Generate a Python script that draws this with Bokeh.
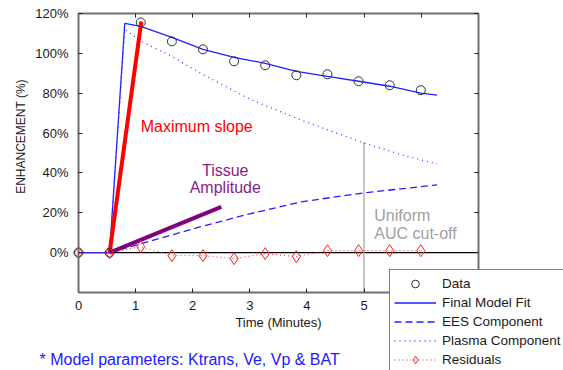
import math
from bokeh.plotting import figure
from bokeh.models import (Range1d, LinearAxis, FixedTicker, Legend, LegendItem, Label)
from bokeh.embed import file_html
from bokeh.resources import INLINE

FONT = "Liberation Sans"

# ---- data ----
data_time = [0, 0.545, 1.09, 1.635, 2.18, 2.725, 3.27, 3.815, 4.36, 4.905, 5.45, 5.995]
data_enh = [0, 0, 115.5, 106, 102, 96, 94, 89, 89.5, 86, 84, 81.5]
resid_enh = [0, 0, 3, -1.5, -1.5, -3, -0.5, -2, 1, 1, 1, 1]

fit_time = [0, 0.545, 0.81, 1.09, 1.635, 2.18, 2.725, 3.27, 3.815, 4.36, 4.905, 5.45, 5.995, 6.28]
fit_enh = [0, 0, 115, 113.5, 108, 102, 98, 95, 91, 88.5, 86, 83.5, 80, 79]

plasma_time = [0.545, 0.81, 1.1, 1.6, 2.14, 3.0, 3.9, 5.0, 5.7, 6.28]
plasma_enh = [0, 112, 106, 99, 90, 77, 66.5, 55, 48.7, 44.5]

ees_time = [0.545, 1.1, 2.14, 3.0, 3.9, 5.0, 5.65, 6.28]
ees_enh = [0, 4.5, 13, 19.5, 25.5, 30, 32, 34]

slope_time = [0.545, 1.1]
slope_enh = [0, 116]
amp_time = [0.545, 2.5]
amp_enh = [0, 23]

baseline_time = [0, 7]
baseline_enh = [0, 0]

cutoff_time = [5, 5]
cutoff_enh = [-20, 55.5]

x_ticks = [0, 1, 2, 3, 4, 5, 6, 7]
y_ticks = [0, 20, 40, 60, 80, 100, 120]
y_labels = {t: f"{t}%" for t in y_ticks}

X_MIN, X_MAX = 0, 7
Y_MIN, Y_MAX = -20, 120

W, H = 563, 370
# axes box in pixels: left 78, right 477.7, top 13, bottom 292
PX_X = (477.7 - 78) / (X_MAX - X_MIN)
PX_Y = (292 - 13) / (Y_MAX - Y_MIN)
x_range = Range1d(X_MIN - 78 / PX_X, X_MAX + (W - 477.7) / PX_X)
y_range = Range1d(Y_MIN - (H - 292) / PX_Y, Y_MAX + 13 / PX_Y)

p = figure(width=W, height=H, output_backend="svg", toolbar_location=None,
           x_range=x_range, y_range=y_range,
           min_border=0, min_border_left=0, min_border_right=0,
           min_border_top=0, min_border_bottom=0)
p.outline_line_color = None
p.xgrid.visible = False
p.ygrid.visible = False
p.background_fill_color = "white"
p.border_fill_color = "white"

AX = "#707070"


def style_axis(ax):
    ax.axis_line_color = AX
    ax.axis_line_width = 2
    ax.major_tick_line_color = "#202020"
    ax.major_tick_in = 4
    ax.major_tick_out = 0
    ax.minor_tick_line_color = None
    ax.major_label_text_font = FONT
    ax.major_label_text_color = "#1a1a1a"
    ax.major_label_text_font_size = "13px"


xa = p.xaxis[0]
xa.ticker = FixedTicker(ticks=x_ticks)
xa.fixed_location = Y_MIN
xa.bounds = (X_MIN, X_MAX)
style_axis(xa)
xa.major_label_standoff = 8
xa.axis_label = "Time (Minutes)"
xa.axis_label_text_font = FONT
xa.axis_label_text_font_size = "13px"
xa.axis_label_text_font_style = "normal"
xa.axis_label_text_color = "#1a1a1a"
xa.axis_label_standoff = 2

ya = p.yaxis[0]
ya.ticker = FixedTicker(ticks=y_ticks)
ya.fixed_location = X_MIN
ya.bounds = (Y_MIN, Y_MAX)
ya.major_label_overrides = y_labels
style_axis(ya)
ya.major_label_standoff = 10

top = LinearAxis(ticker=FixedTicker(ticks=x_ticks), fixed_location=Y_MAX,
                 bounds=(X_MIN, X_MAX))
style_axis(top)
top.major_label_overrides = {t: "" for t in x_ticks}
p.add_layout(top, "above")
right = LinearAxis(ticker=FixedTicker(ticks=y_ticks), fixed_location=X_MAX,
                   bounds=(Y_MIN, Y_MAX))
style_axis(right)
right.major_label_overrides = {t: "" for t in y_ticks}
p.add_layout(right, "right")

# baseline at 0
p.line(baseline_time, baseline_enh, line_color="black", line_width=1.2)

# uniform AUC cut-off
p.line(cutoff_time, cutoff_enh, line_color="#a0a0a0", line_width=1.2)

BLUE = "#2020ff"
r_fit = p.line(fit_time, fit_enh, line_color=BLUE, line_width=1.3)
r_ees = p.line(ees_time, ees_enh, line_color=BLUE, line_width=1.3, line_dash="7 4")
r_pl = p.line(plasma_time, plasma_enh, line_color="#3a3aff", line_width=1.3, line_dash="1 4")

p.line(slope_time, slope_enh, line_color="#ff0000", line_width=4)
p.line(amp_time, amp_enh, line_color="#800080", line_width=4)

r_res_l = p.line(data_time, resid_enh, line_color="#ff2020", line_width=1, line_dash="1 3")
r_res_m = p.scatter(data_time, resid_enh, marker="diamond", size=12,
                    fill_color=None, line_color="#ff2020", line_width=1)
r_data = p.scatter(data_time, data_enh, marker="circle", size=9, fill_color=None,
                   line_color="#303030", line_width=1)

# annotations
TXT = dict(text_font=FONT, text_font_size="16px", text_baseline="alphabetic")
p.add_layout(Label(x=1.09, y=63.5, text="Maximum slope", text_color="#ff0000", **TXT))
p.add_layout(Label(x=2.57, y=41.3, text="Tissue", text_color="#8b1a8b",
                   text_align="center", **TXT))
p.add_layout(Label(x=2.57, y=32.6, text="Amplitude", text_color="#8b1a8b",
                   text_align="center", **TXT))
p.add_layout(Label(x=5.18, y=18.5, text="Uniform", text_color="#a0a0a0", **TXT))
p.add_layout(Label(x=5.18, y=9.7, text="AUC cut-off", text_color="#a0a0a0", **TXT))

# y axis title
p.add_layout(Label(x=20, y=H - 136, x_units="screen", y_units="screen",
                   text="ENHANCEMENT (%)", angle=math.pi / 2, text_align="center",
                   text_baseline="middle", text_font=FONT, text_font_size="12px",
                   text_color="#1a1a1a"))

# footnote
p.add_layout(Label(x=39, y=H - 358.5, x_units="screen", y_units="screen",
                   text="* Model parameters: Ktrans, Ve, Vp & BAT",
                   text_font=FONT, text_font_size="16px", text_color="#2020ff",
                   text_baseline="alphabetic"))

legend = Legend(items=[
    LegendItem(label="Data", renderers=[r_data]),
    LegendItem(label="Final Model Fit", renderers=[r_fit]),
    LegendItem(label="EES Component", renderers=[r_ees]),
    LegendItem(label="Plasma Component", renderers=[r_pl]),
    LegendItem(label="Residuals", renderers=[r_res_l, r_res_m]),
], location=(389, H - 270.5 - 103))
legend.padding = 4
legend.margin = 0
legend.spacing = 0
legend.label_height = 19
legend.glyph_height = 19
legend.glyph_width = 42
legend.label_standoff = 6
legend.label_text_font = FONT
legend.label_text_font_size = "13.5px"
legend.label_text_color = "#1a1a1a"
legend.border_line_color = "black"
legend.border_line_width = 1
legend.background_fill_color = "white"
legend.background_fill_alpha = 1
p.add_layout(legend)

open("out.html", "w").write(file_html(p, INLINE))
